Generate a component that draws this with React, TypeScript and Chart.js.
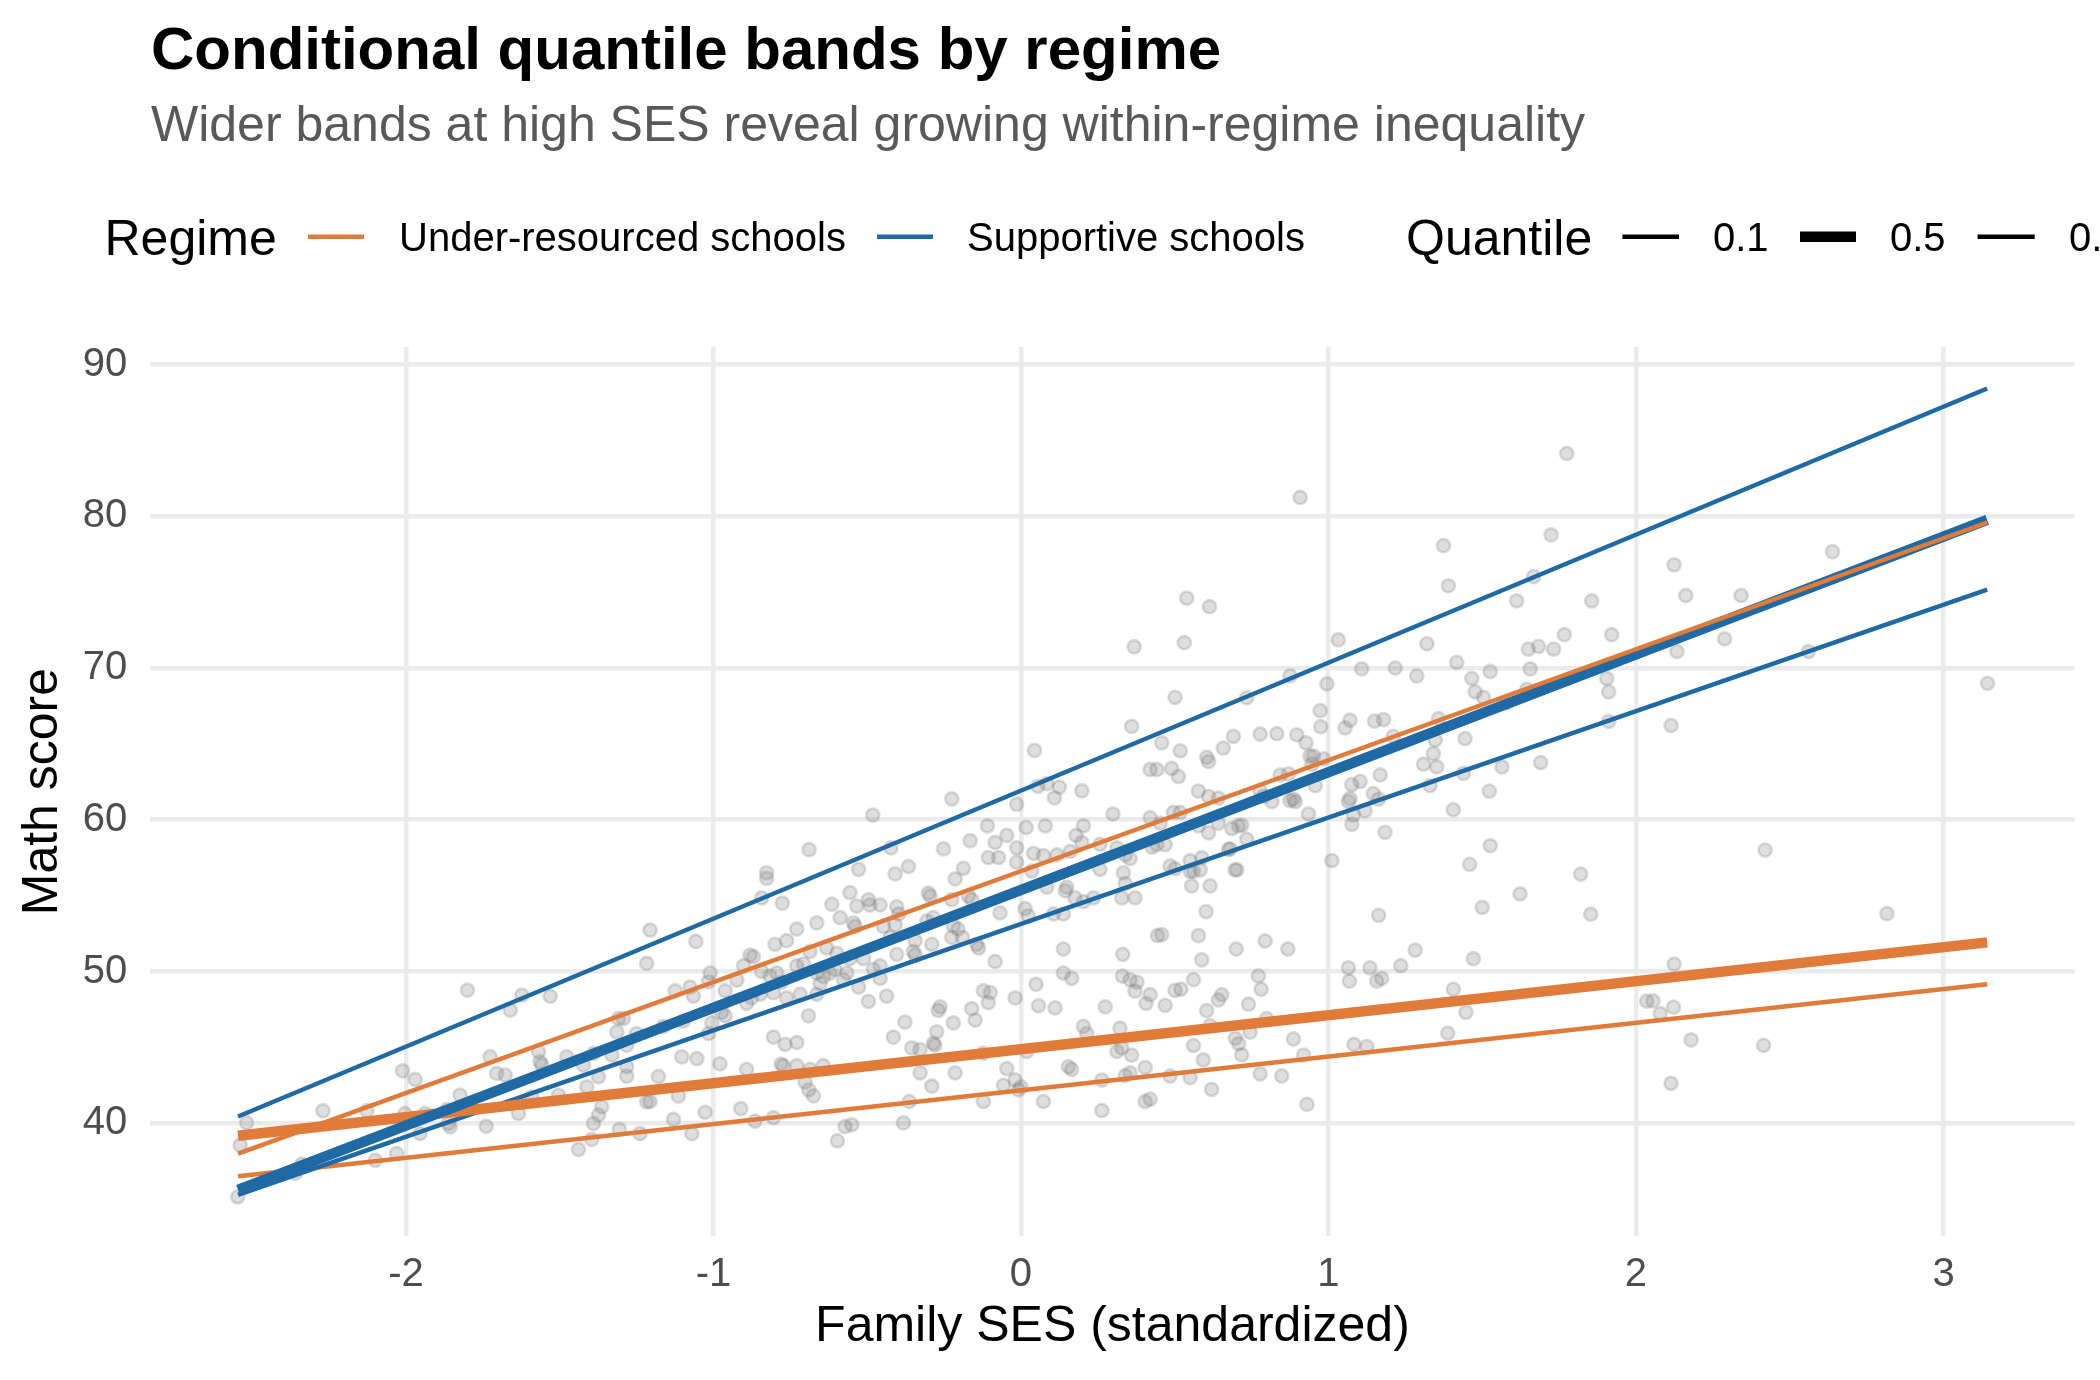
import React, { useEffect, useRef } from "react";
import { Chart, registerables } from "chart.js";

Chart.register(...registerables);

const FONT = "'Liberation Sans', Arial, Helvetica, sans-serif";

// ---------- text ----------
const TITLE = "Conditional quantile bands by regime";
const SUBTITLE = "Wider bands at high SES reveal growing within-regime inequality";
const X_LABEL = "Family SES (standardized)";
const Y_LABEL = "Math score";
const REGIME_TITLE = "Regime";
const QUANTILE_TITLE = "Quantile";

// ---------- categories ----------
const regimes = ["Under-resourced schools", "Supportive schools"];
const regimeColors = ["#E07B39", "#1F6AA5"];
const quantiles = ["0.1", "0.5", "0.9"];
const quantileWidths = [4.5, 10.5, 4.5];

// ---------- ticks ----------
const xTicks = [-2, -1, 0, 1, 2, 3];
const yTicks = [40, 50, 60, 70, 80, 90];

// ---------- fitted quantile lines (endpoints) ----------
const lineSES = [-2.546, 3.142];
const underQ10 = [36.5, 49.16];
const underQ50 = [39.17, 51.92];
const underQ90 = [37.99, 79.59];
const supportQ10 = [35.27, 75.17];
const supportQ50 = [35.6, 79.76];
const supportQ90 = [40.44, 88.42];

// ---------- students: [SES, score] ----------
const students: [number, number][] = [
  [-2.547, 35.15], [-2.539, 38.55], [-2.518, 40.03], [-2.36, 36.69], [-2.339, 37.3], [-2.27, 40.82],
  [-2.127, 40.82], [-2.1, 37.56], [-2.03, 38.0], [-2.011, 43.45], [-1.97, 42.88], [-2.003, 40.64],
  [-1.938, 40.64], [-1.954, 39.32], [-1.867, 40.9], [-1.856, 39.76], [-1.862, 39.98], [-1.824, 41.85],
  [-1.8, 48.77], [-1.739, 39.8], [-1.726, 44.38], [-1.705, 43.28], [-1.677, 43.17], [-1.661, 47.45],
  [-1.623, 48.44], [-1.531, 48.37], [-1.634, 40.64], [-1.591, 41.74], [-1.569, 44.71], [-1.564, 44.05],
  [-1.558, 43.83], [-1.504, 41.85], [-1.477, 44.38], [-1.423, 43.83], [-1.39, 44.6], [-1.412, 42.4],
  [-1.374, 43.06], [-1.363, 41.08], [-1.374, 40.53], [-1.39, 39.98], [-1.439, 38.27], [-1.396, 38.93],
  [-1.309, 46.9], [-1.293, 46.9], [-1.314, 46.0], [-1.282, 45.14], [-1.25, 45.91], [-1.33, 44.49],
  [-1.282, 43.72], [-1.282, 43.1], [-1.306, 39.59], [-1.239, 39.32], [-1.217, 41.41], [-1.217, 50.53],
  [-1.206, 52.73],
  [0.36, 66.15], [0.044, 64.57], [-0.225, 61.37], [-0.482, 60.31], [0.055, 62.2], [0.084, 62.38],
  [0.125, 62.15], [0.198, 61.91], [0.109, 61.44], [-0.014, 61.02], [0.299, 60.38], [-0.109, 59.6],
  [0.017, 59.49], [0.079, 59.6], [0.203, 59.6], [-0.046, 58.97], [-0.084, 58.5], [-0.165, 58.62],
  [0.179, 58.97], [-0.014, 58.15], [-0.252, 58.08], [-0.106, 57.51], [-0.073, 57.51], [0.041, 57.79],
  [0.073, 57.63], [0.117, 57.68], [0.16, 57.91], [0.198, 58.5], [0.257, 58.38], [0.312, 58.15],
  [0.339, 57.68], [0.355, 57.44], [-0.014, 57.2], [0.257, 56.73], [0.333, 56.5], [-0.423, 58.15],
  [-0.689, 58.03], [-0.528, 56.73], [-0.409, 56.43], [-0.366, 56.92], [-0.187, 56.8], [-0.214, 56.1],
  [-0.827, 56.5], [-0.827, 56.14], [-0.843, 54.85], [-0.776, 54.5], [-0.556, 55.2], [-0.615, 54.43],
  [-0.496, 54.73], [-0.491, 54.38], [-0.534, 54.31], [-0.458, 54.38], [-0.404, 54.26], [-0.398, 53.79],
  [-0.301, 55.16], [-0.295, 54.97], [-0.225, 54.73], [-0.171, 54.97], [-0.16, 54.73], [0.084, 55.56],
  [0.144, 55.32], [0.149, 55.56], [0.035, 56.62], [0.176, 54.85], [0.203, 54.6], [0.236, 54.85],
  [0.328, 54.85], [0.371, 54.85], [0.339, 55.79], [0.013, 54.14], [0.024, 53.67], [-0.068, 53.86],
  [0.106, 53.79], [0.138, 53.79], [-0.588, 53.55], [-0.664, 53.2], [-0.545, 53.2], [-0.539, 52.97],
  [-0.729, 52.8], [-0.762, 52.03], [-0.8, 51.79], [-1.057, 51.98], [-0.306, 53.32], [-0.285, 53.55],
  [-0.22, 53.0], [-0.205, 52.8], [-0.225, 52.25], [-0.19, 52.25], [-0.344, 52.03], [-0.35, 51.32],
  [-0.29, 51.79], [-0.404, 51.13], [-0.344, 51.08], [-0.144, 51.79], [-0.138, 51.55], [-0.084, 50.66],
  [0.138, 51.48], [0.331, 51.13], [0.138, 49.9], [0.165, 49.55], [0.33, 49.7], [0.355, 49.45],
  [0.377, 49.3], [0.371, 48.7], [0.049, 49.15], [0.407, 47.9], [0.274, 47.67], [0.111, 47.6],
  [0.057, 47.74], [-0.019, 48.26], [-0.122, 48.73], [-0.1, 48.61], [-0.106, 47.95], [-0.16, 47.55],
  [-0.149, 46.8], [-0.263, 47.67], [-0.269, 47.43], [-0.22, 46.61], [-0.274, 46.02], [-0.285, 45.27],
  [-0.28, 45.15], [-0.377, 46.66], [-0.415, 45.67], [-0.355, 44.96], [-0.328, 44.85], [-0.328, 43.32],
  [-0.29, 42.44], [-0.214, 43.32], [-0.046, 43.6], [-0.019, 42.85], [-0.057, 42.5], [-0.008, 42.2],
  [0.0, 42.4], [-0.122, 41.43], [0.073, 41.43], [0.019, 44.73], [-0.122, 44.61], [0.203, 46.38],
  [0.214, 45.91], [0.154, 43.72], [0.165, 43.55], [0.263, 42.84], [0.339, 43.13], [0.355, 43.32],
  [0.404, 43.67], [0.312, 44.73], [0.328, 44.96], [0.36, 44.49], [0.263, 40.84], [0.404, 41.43],
  [0.322, 46.26], [-0.363, 41.43], [-0.382, 40.02], [-0.55, 39.9], [-0.572, 39.78], [-0.597, 38.84],
  [-0.643, 43.79], [-0.729, 43.79], [-0.686, 43.55], [-0.702, 42.7], [-0.675, 41.8], [-0.69, 42.2],
  [-0.773, 43.79], [-0.78, 43.9], [-0.892, 43.55], [-0.979, 43.91], [-0.911, 40.96], [-0.805, 40.37],
  [-0.865, 40.14], [-1.027, 40.72], [-1.07, 39.31], [-1.13, 40.25], [-1.114, 41.78], [-1.179, 43.08],
  [-1.206, 41.43], [-1.103, 44.37], [-1.054, 44.26], [-0.805, 45.67], [-0.767, 45.2], [-0.729, 45.32],
  [-0.691, 47.08], [-1.125, 48.73], [-1.076, 48.97], [-1.065, 48.38], [-1.011, 49.9], [-1.016, 49.32],
  [-0.962, 48.73], [-0.924, 49.43], [-0.902, 50.38], [-0.881, 51.08], [-0.87, 50.97], [-0.973, 47.32],
  [-0.962, 47.08], [-1.016, 45.91], [-1.005, 46.61], [-1.098, 46.73], [-1.163, 46.38], [-0.843, 50.0],
  [-0.816, 49.7], [-0.794, 49.9], [-0.778, 49.3], [-0.762, 48.26], [-0.805, 48.6], [-0.729, 50.38],
  [-0.707, 50.5], [-0.848, 48.5], [-0.892, 47.9], [-0.876, 48.26], [-0.664, 49.9], [-0.653, 49.2],
  [-0.643, 49.67], [-0.621, 49.9], [-0.605, 50.14], [-0.577, 49.44], [-0.566, 49.9], [-0.718, 48.5],
  [-0.664, 48.5], [-0.512, 50.85], [-0.48, 50.14], [-0.458, 49.55], [-0.458, 50.38], [-0.528, 48.97],
  [-0.496, 48.03], [-0.437, 48.38], [-0.447, 52.97], [-0.409, 53.08], [-0.425, 52.26], [-0.556, 50.85],
  [-0.599, 51.2], [-0.686, 51.32], [-0.632, 51.55],
  [0.908, 81.24], [1.775, 84.14], [1.374, 78.07], [1.39, 75.42], [1.724, 78.77], [1.667, 76.02],
  [1.612, 74.43], [1.856, 74.43], [0.539, 74.61], [0.613, 74.04], [0.531, 71.67], [1.032, 71.85],
  [1.32, 71.6], [1.65, 71.25], [1.683, 71.43], [1.732, 71.25], [1.767, 72.2], [1.921, 72.2],
  [1.417, 70.37], [1.108, 69.94], [1.217, 70.0], [1.287, 69.48], [1.526, 69.77], [1.656, 69.94],
  [1.466, 69.31], [1.477, 68.43], [1.504, 68.07], [0.875, 69.48], [0.995, 68.96], [0.734, 68.04],
  [0.501, 68.07], [1.905, 69.31], [1.911, 68.43], [1.645, 68.6], [0.973, 67.19], [0.975, 66.13],
  [1.054, 66.06], [1.07, 66.56], [1.15, 66.5], [1.179, 66.6], [1.358, 66.66], [1.58, 67.72],
  [1.444, 65.35], [1.911, 66.48], [1.347, 65.25], [1.341, 64.36], [1.352, 63.48], [1.309, 63.66],
  [1.564, 63.48], [1.69, 63.77], [0.458, 65.07], [0.518, 64.54], [0.691, 65.5], [0.778, 65.64],
  [0.832, 65.67], [0.897, 65.6], [0.927, 65.07], [0.658, 64.72], [0.604, 64.12], [0.61, 63.84],
  [0.42, 63.31], [0.442, 63.31], [0.49, 63.38], [0.512, 62.85], [0.577, 61.89], [0.61, 61.54],
  [0.642, 61.43], [0.843, 62.95], [0.87, 63.02], [0.951, 64.19], [0.946, 63.66], [0.984, 64.01],
  [0.957, 62.25], [1.076, 62.32], [1.103, 62.53], [1.168, 62.95], [1.146, 61.72], [1.163, 61.36],
  [1.211, 65.5], [1.07, 61.4], [1.065, 61.2], [1.076, 59.7], [1.081, 60.3], [1.119, 60.59],
  [0.935, 60.38], [0.875, 61.26], [0.892, 61.19], [1.33, 62.25], [1.439, 63.06], [1.523, 61.89],
  [1.406, 60.66], [1.184, 59.17], [1.526, 58.29], [1.459, 57.06], [1.82, 56.42], [1.623, 55.11],
  [1.853, 53.77], [1.5, 54.23], [1.163, 53.7], [1.282, 51.41], [1.471, 50.84], [1.235, 50.38],
  [1.011, 57.31], [1.065, 50.24], [1.068, 49.36], [1.135, 50.24], [1.157, 49.36], [1.173, 49.54],
  [1.406, 48.83], [1.447, 47.31], [1.388, 45.93], [1.083, 45.19], [1.125, 45.05], [2.035, 48.05],
  [0.93, 41.24], [0.848, 43.11], [0.886, 45.55], [0.919, 44.49], [0.778, 43.25], [0.794, 52.01],
  [0.868, 51.48], [0.7, 51.48], [0.772, 49.71], [0.781, 48.83], [0.74, 47.84], [0.799, 46.89],
  [0.745, 46.0], [0.697, 45.6], [0.708, 45.25], [0.718, 44.5], [0.588, 50.77], [0.602, 53.95],
  [0.577, 52.36], [0.555, 55.64], [0.615, 55.64], [0.561, 56.6], [0.444, 52.36], [0.458, 52.43],
  [0.561, 49.46], [0.501, 48.76], [0.52, 48.83], [0.469, 47.77], [0.42, 48.47], [0.604, 47.42],
  [0.615, 46.43], [0.653, 48.47], [0.642, 48.12], [0.561, 45.12], [0.593, 44.17], [0.485, 43.11],
  [0.55, 43.0], [0.62, 42.23], [0.42, 41.59], [0.675, 58.05], [0.696, 56.7], [0.702, 56.7],
  [0.707, 59.6], [0.718, 59.65], [0.55, 57.3], [0.583, 56.7], [0.55, 56.6], [0.588, 57.5],
  [0.485, 56.95], [0.501, 56.77], [0.469, 58.36], [0.442, 58.36], [0.426, 58.2], [0.577, 59.6],
  [0.61, 59.14], [0.642, 59.77], [0.68, 58.08], [0.686, 59.42], [0.734, 58.72], [0.42, 60.13],
  [0.453, 59.77], [0.496, 60.48], [0.518, 60.48], [0.778, 61.89], [0.789, 61.54], [0.816, 61.19],
  [0.886, 61.36], [0.94, 64.19], [0.368, 71.4],
  [2.124, 76.8], [2.162, 74.78], [2.342, 74.78], [2.639, 77.67], [2.288, 71.92], [2.133, 71.09],
  [2.561, 71.09], [3.143, 68.99], [2.114, 66.21], [2.42, 58.0], [2.816, 53.81], [2.124, 50.48],
  [2.055, 48.06], [2.079, 47.23], [2.122, 47.65], [2.179, 45.49], [2.415, 45.13], [2.114, 42.63],
];

// ---------- layout constants (pixels) ----------
const W = 2100;
const H = 1380;
const PANEL = { left: 150.4, right: 2074.5, top: 346.8, bottom: 1236.4 };
const X_RANGE = [-2.831, 3.426];
const Y_RANGE = [32.54, 91.17];

// drawing order as in ggplot: (q0.1,UR),(q0.1,S),(q0.5,UR),(q0.5,S),(q0.9,UR),(q0.9,S)
const lineSeries = [
  { regime: 0, q: 0, values: underQ10 },
  { regime: 1, q: 0, values: supportQ10 },
  { regime: 0, q: 1, values: underQ50 },
  { regime: 1, q: 1, values: supportQ50 },
  { regime: 0, q: 2, values: underQ90 },
  { regime: 1, q: 2, values: supportQ90 },
];

const textPlugin = {
  id: "ggText",
  afterDraw(chart: any) {
    const ctx = chart.ctx as CanvasRenderingContext2D;
    ctx.save();
    ctx.textAlign = "left";
    ctx.textBaseline = "alphabetic";

    ctx.fillStyle = "#000000";
    ctx.font = `bold 60px ${FONT}`;
    ctx.fillText(TITLE, 151, 68.5);

    ctx.fillStyle = "#595959";
    ctx.font = `50px ${FONT}`;
    ctx.fillText(SUBTITLE, 151, 140.5);

    // legend
    const cy = 236.7;
    ctx.fillStyle = "#000000";
    ctx.font = `50px ${FONT}`;
    ctx.fillText(REGIME_TITLE, 104.5, 254.5);
    ctx.fillText(QUANTILE_TITLE, 1406, 254.5);

    const regimeKeys = [
      { x0: 308, x1: 364, tx: 399 },
      { x0: 877, x1: 933, tx: 967 },
    ];
    ctx.font = `40px ${FONT}`;
    regimeKeys.forEach((k, i) => {
      ctx.strokeStyle = regimeColors[i];
      ctx.lineWidth = 4.5;
      ctx.lineCap = "butt";
      ctx.beginPath();
      ctx.moveTo(k.x0, cy);
      ctx.lineTo(k.x1, cy);
      ctx.stroke();
      ctx.fillStyle = "#000000";
      ctx.fillText(regimes[i], k.tx, 251);
    });

    const quantKeys = [
      { x0: 1622.4, x1: 1679, tx: 1713 },
      { x0: 1800, x1: 1856, tx: 1890 },
      { x0: 1977.6, x1: 2034.7, tx: 2069 },
    ];
    quantKeys.forEach((k, i) => {
      ctx.strokeStyle = "#000000";
      ctx.lineWidth = quantileWidths[i];
      ctx.lineCap = "butt";
      ctx.beginPath();
      ctx.moveTo(k.x0, cy);
      ctx.lineTo(k.x1, cy);
      ctx.stroke();
      ctx.fillStyle = "#000000";
      ctx.fillText(quantiles[i], k.tx, 251);
    });
    ctx.restore();
  },
};

export default function App() {
  const ref = useRef<HTMLCanvasElement | null>(null);

  useEffect(() => {
    const canvas = ref.current;
    if (!canvas) return;

    const datasets: any[] = [
      {
        label: "students",
        data: students.map(([x, y]) => ({ x, y })),
        pointRadius: 6.6,
        pointBorderWidth: 2.6,
        pointBackgroundColor: "rgba(127,127,127,0.26)",
        pointBorderColor: "rgba(127,127,127,0.26)",
        showLine: false,
        order: 100,
      },
      ...lineSeries.map((s, i) => ({
        label: `${regimes[s.regime]} q${quantiles[s.q]}`,
        data: lineSES.map((x, j) => ({ x, y: s.values[j] })),
        showLine: true,
        borderColor: regimeColors[s.regime],
        backgroundColor: regimeColors[s.regime],
        borderWidth: quantileWidths[s.q],
        borderCapStyle: "butt",
        pointRadius: 0,
        fill: false,
        tension: 0,
        order: 10 - i,
      })),
    ];

    const tickFont = { family: FONT, size: 40 };
    const titleFont = { family: FONT, size: 50 };

    const chart = new Chart(canvas, {
      type: "scatter",
      data: { datasets },
      plugins: [textPlugin],
      options: {
        responsive: false,
        maintainAspectRatio: false,
        animation: false,
        devicePixelRatio: 1,
        events: [],
        layout: {
          padding: { left: 0, top: PANEL.top, right: W - PANEL.right, bottom: 0 },
        },
        plugins: {
          legend: { display: false },
          tooltip: { enabled: false },
          title: { display: false },
        },
        scales: {
          x: {
            type: "linear",
            min: X_RANGE[0],
            max: X_RANGE[1],
            afterBuildTicks: (scale: any) => {
              scale.ticks = xTicks.map((v) => ({ value: v }));
            },
            afterFit: (scale: any) => {
              scale.height = H - PANEL.bottom;
            },
            grid: { color: "#EBEBEB", lineWidth: 4.5, drawTicks: false },
            border: { display: false },
            ticks: {
              font: tickFont,
              color: "#4D4D4D",
              padding: 14.4,
              maxRotation: 0,
              callback: (v: any) => String(v),
            },
            title: {
              display: true,
              text: X_LABEL,
              font: titleFont,
              color: "#000000",
              padding: { top: 0, bottom: 22.5 },
            },
          },
          y: {
            type: "linear",
            min: Y_RANGE[0],
            max: Y_RANGE[1],
            afterBuildTicks: (scale: any) => {
              scale.ticks = yTicks.map((v) => ({ value: v }));
            },
            afterFit: (scale: any) => {
              scale.width = PANEL.left;
            },
            grid: { color: "#EBEBEB", lineWidth: 4.5, drawTicks: false },
            border: { display: false },
            ticks: {
              font: tickFont,
              color: "#4D4D4D",
              padding: 23.2,
              callback: (v: any) => String(v),
            },
            title: {
              display: true,
              text: Y_LABEL,
              font: titleFont,
              color: "#000000",
              padding: { top: 13, bottom: 0 },
            },
          },
        },
      } as any,
    });

    return () => chart.destroy();
  }, []);

  return (
    <div style={{ position: "absolute", left: 0, top: 0, width: W, height: H, background: "#ffffff", overflow: "hidden" }}>
      <canvas ref={ref} width={W} height={H} style={{ display: "block", width: W, height: H }} />
    </div>
  );
}
